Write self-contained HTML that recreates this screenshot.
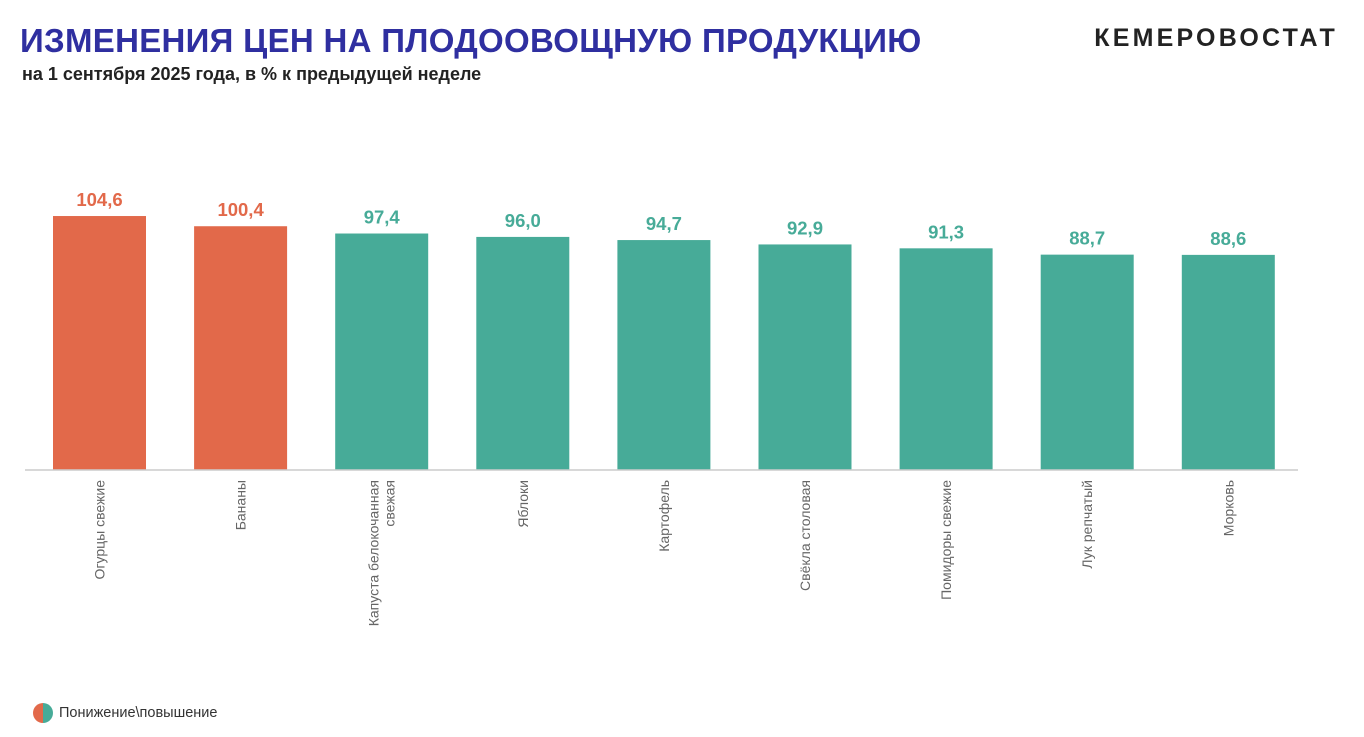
<!DOCTYPE html>
<html><head><meta charset="utf-8"><style>
body{margin:0;width:1364px;height:737px;background:#fff;font-family:"Liberation Sans",sans-serif;overflow:hidden;position:relative}
#title{position:absolute;left:20px;top:22px;font-size:33px;font-weight:bold;color:#2F2FA0;letter-spacing:0.3px}
#sub{position:absolute;left:22px;top:64px;font-size:18px;font-weight:bold;color:#222}
#brand{position:absolute;right:26px;top:24px;font-size:25px;font-weight:bold;color:#222;letter-spacing:3.2px}
#legend{position:absolute;left:33px;top:703px;font-size:14.5px;color:#333;display:flex;align-items:center}
#legend .dot{width:20px;height:20px;border-radius:50%;background:linear-gradient(90deg,#E2694A 50%,#47AB98 50%);margin-right:6px}
</style></head><body>
<div id="title">ИЗМЕНЕНИЯ ЦЕН НА ПЛОДООВОЩНУЮ ПРОДУКЦИЮ</div>
<div id="sub">на 1 сентября 2025 года, в % к предыдущей неделе</div>
<div id="brand">КЕМЕРОВОСТАТ</div>
<svg id="chart" width="1364" height="737" style="position:absolute;left:0;top:0"></svg>
<div id="legend"><div class="dot"></div><span>Понижение\повышение</span></div>
<script>
const categories=["Огурцы свежие","Бананы","Капуста белокочанная свежая","Яблоки","Картофель","Свёкла столовая","Помидоры свежие","Лук репчатый","Морковь"];
const values=[104.6,100.4,97.4,96.0,94.7,92.9,91.3,88.7,88.6];
const labels=["104,6","100,4","97,4","96,0","94,7","92,9","91,3","88,7","88,6"];
const NS="http://www.w3.org/2000/svg";
const svg=document.getElementById('chart');
const baseY=470, pxPerUnit=2.428, x0=53, pitch=141.1, bw=93;
const y=v=>baseY-v*pxPerUnit;
const x=i=>x0+i*pitch;
function mk(t,a){const e=document.createElementNS(NS,t);for(const k in a)e.setAttribute(k,a[k]);svg.appendChild(e);return e;}
values.forEach((v,i)=>{
  const c=v>=100?"#E2694A":"#47AB98";
  const r=mk('rect',{x:x(i),y:y(v),width:bw,height:baseY-y(v),fill:c});
  
  
  const t=mk('text',{x:x(i)+bw/2,y:y(v)-10,'text-anchor':'middle','font-size':18.5,'font-weight':'bold',fill:c});
  
  
  t.textContent=labels[i];
  const cx=x(i)+bw/2;
  const words=categories[i];
  const lines=words==="Капуста белокочанная свежая"?["Капуста белокочанная","свежая"]:[words];
  lines.forEach((ln,j)=>{
    const off=(j-(lines.length-1)/2)*16+5;
    const l=mk('text',{x:0,y:0,'text-anchor':'end','font-size':14,fill:'#666',transform:`translate(${cx+off},480) rotate(-90)`});
    
    
    l.textContent=ln;
  });
});
const ax=mk('line',{x1:25,x2:1298,y1:baseY,y2:baseY,stroke:'#ccc','stroke-width':1.5});


</script>
</body></html>
